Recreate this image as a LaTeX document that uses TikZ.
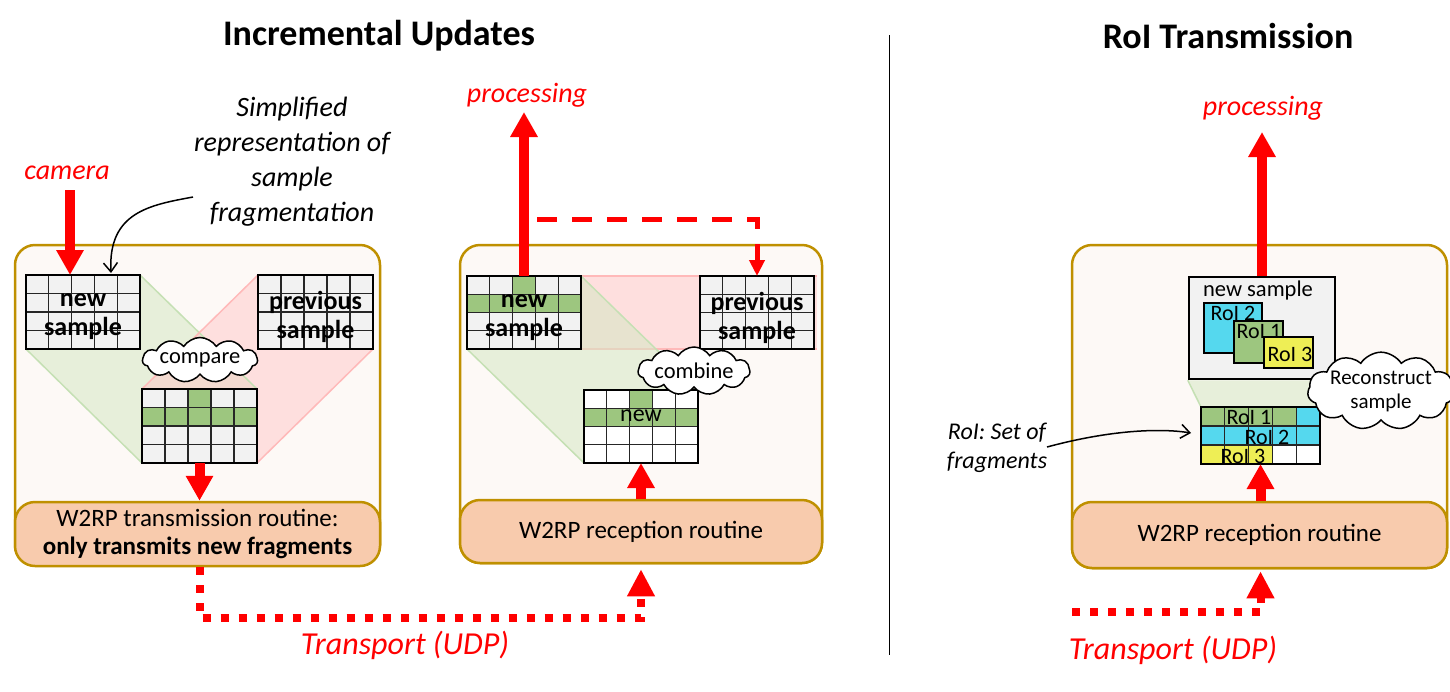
\documentclass[tikz,border=0pt]{standalone}
\usepackage{fontspec}
\setmainfont{Carlito}
\usetikzlibrary{arrows.meta,shapes.symbols,calc}
\definecolor{gold}{HTML}{BF9000}
\definecolor{boxbg}{HTML}{FDF9F6}
\definecolor{orng}{HTML}{F8CBAD}
\definecolor{cellg}{HTML}{F2F2F2}
\definecolor{grn}{HTML}{9DC67F}
\definecolor{cyn}{HTML}{55D8EE}
\definecolor{ylw}{HTML}{EEEE55}
\definecolor{bandg}{HTML}{D5E8C4}
\definecolor{bandge}{HTML}{C5E0B4}
\definecolor{bandr}{HTML}{FFC7C7}
\definecolor{bandre}{HTML}{FFB9B9}
\definecolor{redc}{HTML}{FF0000}
\pgfdeclarelayer{back}\pgfdeclarelayer{mid}\pgfsetlayers{back,mid,main}
\newcommand\fsz[2]{\fontsize{#1}{#2}\selectfont}
\tikzset{
 outerbox/.style={draw=gold,line width=2.5pt,fill=boxbg,rounded corners=20pt,inner sep=0pt},
 routine/.style={draw=gold,line width=2.5pt,fill=orng,rounded corners=20pt,inner sep=0pt,align=center,font=\fsz{25}{28}},
 gridbox/.style={draw=black,line width=2.5pt,inner sep=0pt,outer sep=0pt},
 cellline/.style={draw=black!85,line width=1.1pt},
 gridborder/.style={draw=black,line width=2.5pt},
 gridlbl/.style={font=\fsz{26}{29}\bfseries,align=center,inner sep=0pt},
 plainlbl/.style={font=\fsz{22.5}{26},align=center,inner sep=0pt},
 roilbl/.style={font=\fsz{22}{25},inner sep=0pt},
 redlbl/.style={text=redc,font=\fsz{28}{34}\itshape,inner sep=0pt},
 notelbl/.style={font=\fsz{28}{35}\itshape,align=center,inner sep=0pt},
 bigarrow/.style={draw=redc,line width=10pt,-{Triangle[width=26pt,length=25pt]}},
 dasharrow/.style={draw=redc,line width=5pt,dash pattern=on 20pt off 15pt,-{Triangle[width=15pt,length=16pt]}},
 transport/.style={draw=redc,line width=8pt,dash pattern=on 8pt off 10pt,-{Triangle[width=26pt,length=27pt]}},
 thinarrow/.style={draw=black,line width=1.5pt,-{Straight Barb[length=9pt,width=14pt]}},
 bubble/.style={cloud,cloud puffs=11,cloud puff arc=115,cloud ignores aspect,draw=black,line width=1.5pt,fill=white,inner sep=0pt,align=center},
 bandG/.style={fill=bandg,fill opacity=.55},
 bandGedge/.style={draw=bandge,line width=1.5pt},
 bandR/.style={fill=bandr,fill opacity=.5},
 bandRedge/.style={draw=bandre,line width=1.5pt},
 roibox/.style={draw=black,line width=2.5pt,inner sep=0pt},
}
\newcommand\fgrid[8]{%
 \node[gridbox,fill=#8,minimum width=#4pt,minimum height=#5pt,anchor=north west] (#1) at (#2,#3) {};
 \pgfmathsetmacro\gcw{#4/#6}\pgfmathsetmacro\gch{#5/#7}%
 \xdef\curg{#1}\xdef\curw{\gcw}\xdef\curh{\gch}\xdef\curW{#4}\xdef\curH{#5}\xdef\curc{#6}\xdef\curr{#7}%
}
\newcommand\gcell[3]{%
 \fill[#3] ($(\curg.north west)+({(#1-1)*\curw},{(#2-1)*\curh})$) rectangle ++(\curw,\curh);
}
\newcommand\glines{%
 \pgfmathtruncatemacro\gcm{\curc-1}\pgfmathtruncatemacro\grm{\curr-1}%
 \foreach \i in {1,...,\gcm}{\draw[cellline] ($(\curg.north west)+({\i*\curw},0)$) -- ++(0,\curH);}
 \foreach \j in {1,...,\grm}{\draw[cellline] ($(\curg.north west)+(0,{\j*\curh})$) -- ++(\curW,0);}
 \draw[gridborder] (\curg.north west) rectangle (\curg.south east);
}
\begin{document}
\begin{tikzpicture}[x=1pt,y=-1pt]
\useasboundingbox (0,0) rectangle (1450,691);

% titles
\node[font=\fsz{36}{40}\bfseries,inner sep=0pt] (titleL) at (379,36) {Incremental Updates};
\node[font=\fsz{36}{40}\bfseries,inner sep=0pt] (titleR) at (1228,36) {RoI Transmission};
\coordinate (d1) at (889,35); \coordinate (d2) at (889,655);
\draw[line width=1pt] (d1) -- (d2);

% outer boxes
\begin{pgfonlayer}{back}
\fill[white] (0,0) rectangle (1450,691);
\node[outerbox,minimum width=365pt,minimum height=320pt] (boxL) at (197.5,405) {};
\node[outerbox,minimum width=362pt,minimum height=318pt] (boxM) at (641,404) {};
\node[outerbox,minimum width=375pt,minimum height=323pt] (boxR) at (1259.5,406.5) {};
\node[routine,minimum width=365pt,minimum height=64pt] (oL) at (197.5,534) {W2RP transmission routine:\\\textbf{only transmits new fragments}};
\node[routine,minimum width=362pt,minimum height=63pt] (oM) at (641,531.5) {W2RP reception routine};
\node[routine,minimum width=375pt,minimum height=66pt] (oR) at (1259.5,535) {W2RP reception routine};
\end{pgfonlayer}

% ---------- left grids
\fgrid{nsL}{26}{275}{114}{74}{5}{4}{cellg}\glines
\fgrid{prevL}{258}{275}{115}{74}{5}{4}{cellg}\glines
\fgrid{resL}{142}{389}{115}{74}{5}{4}{cellg}
\gcell{3}{1}{grn}\gcell{1}{2}{grn}\gcell{2}{2}{grn}\gcell{3}{2}{grn}\gcell{4}{2}{grn}\gcell{5}{2}{grn}
\glines
\node[gridlbl] (nsLt) at ($(nsL.center)+(0,5)$) {new\\sample};
\node[gridlbl] (prevLt) at ($(prevL.center)+(0,5)$) {previous\\sample};

% ---------- middle grids
\fgrid{nsM}{467}{276}{114}{73}{5}{4}{cellg}
\gcell{3}{1}{grn}\gcell{1}{2}{grn}\gcell{2}{2}{grn}\gcell{3}{2}{grn}\gcell{4}{2}{grn}\gcell{5}{2}{grn}
\glines
\fgrid{prevM}{700}{276}{114}{73}{5}{4}{cellg}\glines
\fgrid{resM}{584}{390}{114}{73}{5}{4}{white}
\gcell{3}{1}{grn}\gcell{1}{2}{grn}\gcell{2}{2}{grn}\gcell{3}{2}{grn}\gcell{4}{2}{grn}\gcell{5}{2}{grn}
\glines
\node[gridlbl] (nsMt) at ($(nsM.center)+(0,5)$) {new\\sample};
\node[gridlbl] (prevMt) at ($(prevM.center)+(0,5)$) {previous\\sample};
\node[font=\fsz{24}{28},inner sep=0pt] (resMt) at (641,416) {new};

% ---------- right
\node[roibox,fill=cellg,minimum width=146pt,minimum height=102pt] (newR) at (1262,328) {};
\node[plainlbl] (newRt) at (1258,290) {new sample};
\node[roibox,fill=cyn,minimum width=58pt,minimum height=50pt] (roi2) at (1233,328) {};
\node[roibox,fill=grn,minimum width=49pt,minimum height=42pt] (roi1) at (1258.5,342) {};
\node[roibox,fill=ylw,minimum width=49pt,minimum height=31pt] (roi3) at (1288.5,352.5) {};
\node[roilbl] (roi2t) at (1233,313) {RoI 2};
\node[roilbl] (roi1t) at (1259,331) {RoI 1};
\node[roilbl] (roi3t) at (1290,354) {RoI 3};

\fgrid{fragR}{1201}{407}{119}{57}{5}{3}{white}
\gcell{1}{1}{grn}\gcell{2}{1}{grn}\gcell{3}{1}{grn}\gcell{4}{1}{grn}\gcell{5}{1}{cyn}
\gcell{1}{2}{cyn}\gcell{2}{2}{cyn}\gcell{3}{2}{cyn}\gcell{4}{2}{cyn}\gcell{5}{2}{cyn}
\gcell{1}{3}{ylw}\gcell{2}{3}{ylw}\gcell{3}{3}{ylw}
\glines
\node[roilbl] (f1t) at (1249,417) {RoI 1};
\node[roilbl] (f2t) at (1267,437) {RoI 2};
\node[roilbl] (f3t) at (1243,456) {RoI 3};

% ---------- bands
\begin{pgfonlayer}{mid}
\fill[bandG] (nsL.north west) -- (nsL.north east) -- (resL.north east) -- (resL.south east) -- (resL.south west) -- (nsL.south west) -- cycle;
\fill[bandR] (prevL.north east) -- (prevL.north west) -- (resL.north west) -- (resL.south west) -- (resL.south east) -- (prevL.south east) -- cycle;
\draw[bandGedge] (nsL.north east) -- (resL.north east) (nsL.south west) -- (resL.south west);
\draw[bandRedge] (prevL.north west) -- (resL.north west) (prevL.south east) -- (resL.south east);
\fill[bandR] (nsM.north west) rectangle ($(prevM.south east)+(3,0)$);
\draw[bandRedge] (nsM.north east) -- ($(prevM.north east)+(3,0)$) (nsM.south east) -- ($(prevM.south east)+(3,0)$);
\fill[bandG] (nsM.north west) -- (nsM.north east) -- (resM.north east) -- (resM.south east) -- (resM.south west) -- (nsM.south west) -- cycle;
\draw[bandGedge] (nsM.north east) -- (resM.north east) (nsM.south west) -- (resM.south west);
\fill[bandG] (newR.south west) -- (newR.south east) -- (fragR.north east) -- (fragR.north west) -- cycle;
\draw[bandGedge] (newR.south west) -- (fragR.north west);
\end{pgfonlayer}

% ---------- clouds
\node[bubble,minimum width=115pt,minimum height=45pt,font=\fsz{22.5}{26}] (cmp) at (200,360) {compare};
\node[bubble,minimum width=112pt,minimum height=48pt,font=\fsz{22.5}{26}] (cmb) at (694,371) {combine};
\node[bubble,minimum width=128pt,minimum height=70pt,font=\fsz{21}{24}] (rec) at (1381,391) {Reconstruct\\sample};

% ---------- arrows left
\node[redlbl] (camT) at (67,173) {camera};
\coordinate (camS) at (70,190);
\draw[bigarrow] (camS) -- (camS |- nsL.north);
\draw[bigarrow] (resL.south) -- (resL.south |- oL.north);
\node[notelbl] (simp) at (292,162) {Simplified\\representation of\\sample\\fragmentation};
\coordinate (simpA) at (193,197);
\coordinate (simpB) at ($(nsL.north west)+(85,-2)$);
\draw[thinarrow] (simpA) .. controls (150,205) and (108,212) .. (simpB);

% ---------- arrows middle
\coordinate (procM) at (524,112);
\draw[bigarrow] (nsM.north) -- (procM);
\node[redlbl] (procMt) at (527,95) {processing};
\coordinate (dashS) at (537,219);
\draw[dasharrow] (dashS) -| (prevM.north);
\draw[bigarrow] (oM.north -| resM.south) -- (resM.south);

% transport left
\coordinate (tLs) at (resL.south |- oL.south);
\coordinate (tLtip) at ($(resM.south |- oM.south)+(0,5)$);
\draw[transport] (tLs) -- ++(0,51) -| (tLtip);
\node[redlbl,font=\fsz{32}{38}\itshape] (tpL) at (405,645) {Transport (UDP)};

% ---------- arrows right
\coordinate (procR) at (1262,132);
\draw[bigarrow] (newR.north) -- (procR);
\node[redlbl] (procRt) at (1263,108) {processing};
\draw[bigarrow] (oR.north -| fragR.south) -- (fragR.south);
\coordinate (tRs) at (1072,612);
\coordinate (tRtip) at ($(fragR.south |- oR.south)+(0,2)$);
\draw[transport] (tRs) -| (tRtip);
\node[redlbl,font=\fsz{32}{38}\itshape] (tpR) at (1173,650) {Transport (UDP)};

\node[font=\fsz{24}{29}\itshape,align=center,inner sep=0pt] (roiT) at (997,448) {RoI: Set of\\fragments};
\coordinate (roiA) at (1047,447);
\coordinate (roiB) at ($(fragR.north west)+(-10,26)$);
\draw[thinarrow] (roiA) .. controls (1110,430) and (1160,428) .. (roiB);
\end{tikzpicture}
\end{document}
